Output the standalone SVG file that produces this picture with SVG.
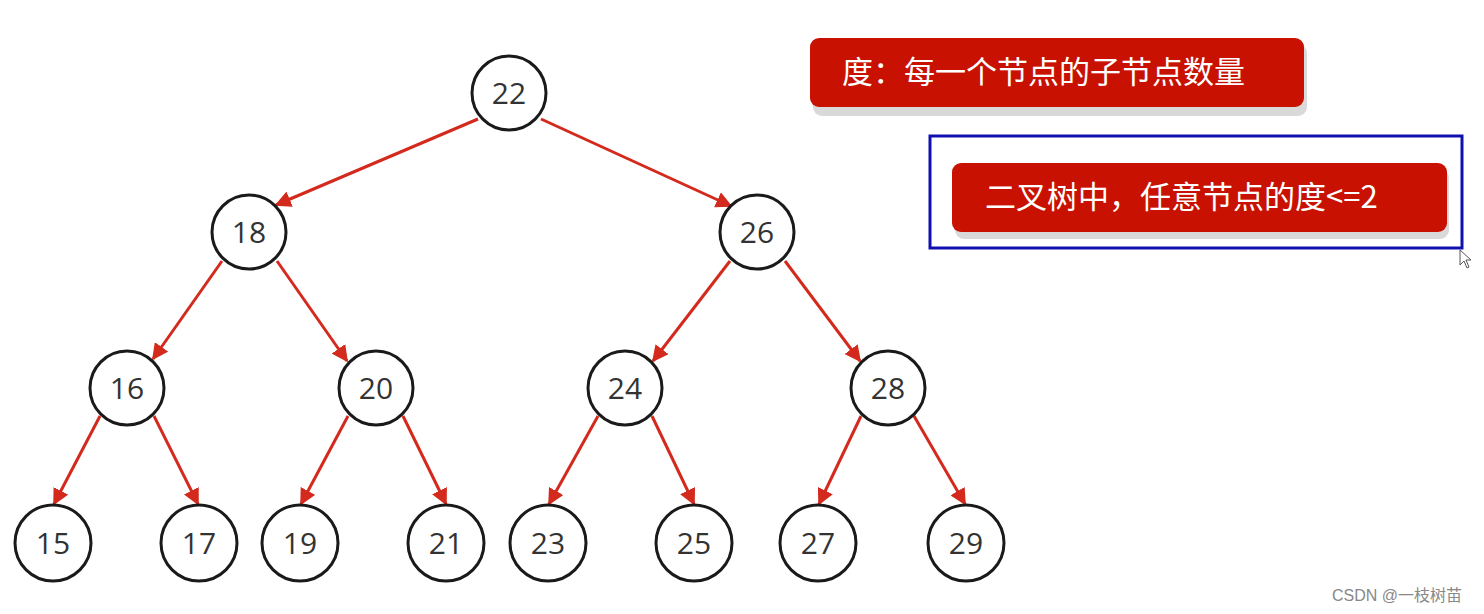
<svg xmlns="http://www.w3.org/2000/svg" width="1484" height="614" viewBox="0 0 1484 614">
<style>
.node circle{fill:#fff;stroke:#1a1a1a;stroke-width:3}
.node text{font-family:"Open Sans","Noto Sans","DejaVu Sans",sans-serif;font-size:30px;fill:#333;text-anchor:middle}
.edge{stroke:#d42a1e;stroke-width:3;fill:none;marker-end:url(#arr)}
.box{fill:#c81100}
.shadow{fill:#d9d9d9}
.label{font-family:"Noto Sans CJK SC","Noto Sans",sans-serif;font-size:31px;fill:#fff}
</style>
<defs>
<marker id="arr" viewBox="0 0 10 10" refX="9" refY="5" markerWidth="5.5" markerHeight="5.5" orient="auto" markerUnits="strokeWidth">
<path d="M0,0 L10,5 L0,10 z" fill="#d42a1e"/>
</marker>
</defs>
<rect width="1484" height="614" fill="#fff"/>
<g id="connectors">
<line class="edge" x1="478" y1="119" x2="276" y2="205"/>
<line class="edge" x1="541" y1="119" x2="731" y2="206"/>
<line class="edge" x1="222" y1="261" x2="153" y2="359"/>
<line class="edge" x1="277" y1="261" x2="347" y2="361"/>
<line class="edge" x1="730" y1="261" x2="653" y2="361"/>
<line class="edge" x1="785" y1="261" x2="860" y2="361"/>
<line class="edge" x1="100" y1="416" x2="54" y2="504"/>
<line class="edge" x1="154" y1="416" x2="198" y2="504"/>
<line class="edge" x1="348" y1="416" x2="301" y2="504"/>
<line class="edge" x1="403" y1="416" x2="446" y2="504"/>
<line class="edge" x1="598" y1="416" x2="549" y2="504"/>
<line class="edge" x1="652" y1="416" x2="694" y2="504"/>
<line class="edge" x1="861" y1="416" x2="819" y2="504"/>
<line class="edge" x1="914" y1="416" x2="965" y2="504"/>
</g>
<g id="n22" class="node"><circle cx="509" cy="93" r="37"/><text x="509" y="104">22</text></g>
<g id="n18" class="node"><circle cx="249" cy="232" r="37"/><text x="249" y="243">18</text></g>
<g id="n26" class="node"><circle cx="757" cy="232" r="37"/><text x="757" y="243">26</text></g>
<g id="n16" class="node"><circle cx="127" cy="388" r="37"/><text x="127" y="399">16</text></g>
<g id="n20" class="node"><circle cx="376" cy="388" r="37"/><text x="376" y="399">20</text></g>
<g id="n24" class="node"><circle cx="625" cy="388" r="37"/><text x="625" y="399">24</text></g>
<g id="n28" class="node"><circle cx="888" cy="388" r="37"/><text x="888" y="399">28</text></g>
<g id="n15" class="node"><circle cx="53" cy="543" r="38"/><text x="53" y="554">15</text></g>
<g id="n17" class="node"><circle cx="199" cy="543" r="38"/><text x="199" y="554">17</text></g>
<g id="n19" class="node"><circle cx="300" cy="543" r="38"/><text x="300" y="554">19</text></g>
<g id="n21" class="node"><circle cx="446" cy="543" r="38"/><text x="446" y="554">21</text></g>
<g id="n23" class="node"><circle cx="548" cy="543" r="38"/><text x="548" y="554">23</text></g>
<g id="n25" class="node"><circle cx="694" cy="543" r="38"/><text x="694" y="554">25</text></g>
<g id="n27" class="node"><circle cx="818" cy="543" r="38"/><text x="818" y="554">27</text></g>
<g id="n29" class="node"><circle cx="966" cy="543" r="38"/><text x="966" y="554">29</text></g>
<g id="def1">
<rect class="shadow" x="813" y="44" width="494" height="72" rx="9"/>
<rect class="box" x="810" y="38" width="494" height="69" rx="9"/>
<text class="label" x="842" y="83">度：每一个节点的子节点数量</text>
</g>
<g id="def2">
<rect x="930" y="136" width="532" height="112" fill="none" stroke="#1010b0" stroke-width="3"/>
<rect class="shadow" x="955" y="169" width="494" height="70" rx="9"/>
<rect class="box" x="952" y="163" width="495" height="69" rx="9"/>
<text class="label" x="985" y="208">二叉树中，任意节点的度&lt;=2</text>
</g>
<path d="M1460,250 L1460,265 L1464,261 L1467,268 L1469,267 L1466,260 L1471,260 z" fill="#fff" stroke="#555" stroke-width="1"/>
<text x="1332" y="601" font-family="Liberation Sans,Arial,'Noto Sans CJK SC',sans-serif" font-size="16" fill="#888">CSDN @一枝树苗</text>
</svg>
